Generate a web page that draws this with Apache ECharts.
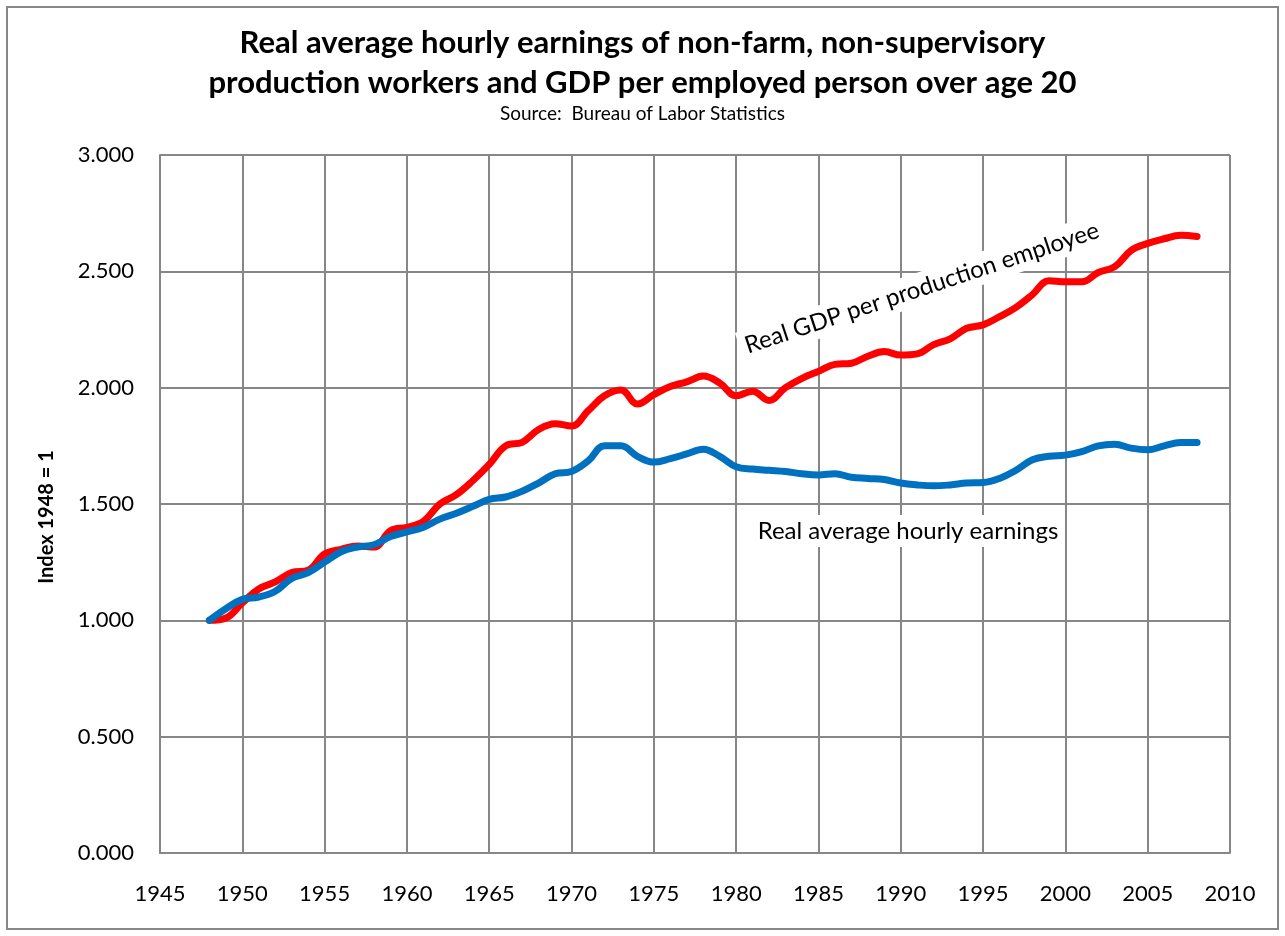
<!DOCTYPE html>
<html>
<head>
<meta charset="utf-8">
<script src="https://cdn.jsdelivr.net/npm/echarts@6/dist/echarts.min.js"></script>
<style>
  html, body { margin: 0; padding: 0; background: #fff; }
  #main { width: 1285px; height: 936px; }
</style>
</head>
<body>
<div id="main"></div>
<script>
var years = [];
for (var y = 1948; y <= 2008; y++) years.push(y);

// Real GDP per production employee (index 1948 = 1)
var gdpPerEmployee = [
  1.00, 1.01, 1.075, 1.135, 1.165, 1.205, 1.215, 1.285, 1.305, 1.32,
  1.315, 1.385, 1.40, 1.425, 1.50, 1.54, 1.60, 1.67, 1.75, 1.765,
  1.82, 1.845, 1.835, 1.90, 1.965, 1.99, 1.93, 1.97, 2.005, 2.025,
  2.05, 2.02, 1.965, 1.985, 1.945, 2.00, 2.04, 2.07, 2.10, 2.105,
  2.135, 2.155, 2.14, 2.145, 2.185, 2.21, 2.255, 2.27, 2.305, 2.345,
  2.40, 2.46, 2.455, 2.455, 2.495, 2.52, 2.59, 2.62, 2.64, 2.655,
  2.65
];

// Real average hourly earnings (index 1948 = 1)
var hourlyEarnings = [
  1.00, 1.05, 1.09, 1.10, 1.125, 1.18, 1.205, 1.25, 1.295, 1.315,
  1.325, 1.36, 1.38, 1.40, 1.435, 1.46, 1.49, 1.52, 1.53, 1.555,
  1.59, 1.63, 1.64, 1.685, 1.75, 1.75, 1.705, 1.68, 1.695, 1.715,
  1.735, 1.705, 1.66, 1.65, 1.645, 1.64, 1.63, 1.625, 1.63, 1.615,
  1.61, 1.605, 1.59, 1.582, 1.578, 1.582, 1.59, 1.592, 1.61, 1.645,
  1.69, 1.705, 1.71, 1.725, 1.75, 1.757, 1.74, 1.733, 1.75, 1.764,
  1.764
];

function pairs(vals) {
  return years.map(function (yr, i) { return [yr, vals[i]]; });
}

var FONT = 'Lato, "Open Sans", sans-serif';
var GRID_GRAY = '#878787';

var myChart = echarts.init(document.getElementById('main'));
option = {
  backgroundColor: '#fff',
  animation: false,
  title: [
    {
      text: 'Real average hourly earnings of non-farm, non-supervisory\nproduction workers and GDP per employed person over age 20',
      left: 'center',
      top: 23,
      padding: 0,
      textStyle: { fontFamily: FONT, fontSize: 31, fontWeight: 'bold', color: '#000', lineHeight: 40 }
    },
    {
      text: 'Source:  Bureau of Labor Statistics',
      left: 'center',
      top: 104,
      padding: 0,
      textStyle: { fontFamily: FONT, fontSize: 19, fontWeight: 'normal', color: '#000' }
    }
  ],
  grid: { left: 160, right: 55, top: 155, bottom: 83, containLabel: false },
  xAxis: {
    type: 'value',
    min: 1945,
    max: 2010,
    interval: 5,
    axisLine: { show: true, lineStyle: { color: GRID_GRAY, width: 2 } },
    axisTick: { show: false },
    splitLine: { show: true, lineStyle: { color: GRID_GRAY, width: 2 } },
    axisLabel: {
      margin: 30, color: '#000', fontFamily: FONT, fontSize: 22,
      formatter: function (v) { return String(v); }
    }
  },
  yAxis: {
    type: 'value',
    min: 0,
    max: 3,
    interval: 0.5,
    axisLine: { show: true, lineStyle: { color: GRID_GRAY, width: 2 } },
    axisTick: { show: false },
    splitLine: { show: true, lineStyle: { color: GRID_GRAY, width: 2 } },
    axisLabel: {
      margin: 26, color: '#000', fontFamily: FONT, fontSize: 22,
      formatter: function (v) { return v.toFixed(3); }
    }
  },
  series: [
    {
      name: 'Real GDP per production employee',
      type: 'line',
      data: pairs(gdpPerEmployee),
      smooth: 0.4,
      symbol: 'none',
      lineStyle: { color: '#ff0000', width: 7, cap: 'round', join: 'round' }
    },
    {
      name: 'Real average hourly earnings',
      type: 'line',
      data: pairs(hourlyEarnings),
      smooth: 0.4,
      symbol: 'none',
      lineStyle: { color: '#0070c0', width: 7, cap: 'round', join: 'round' }
    }
  ],
  graphic: [
    {
      type: 'rect',
      shape: { x: 7, y: 7, width: 1271, height: 922 },
      style: { fill: 'none', stroke: GRID_GRAY, lineWidth: 2 },
      silent: true
    },
    {
      type: 'text',
      x: 47, y: 517,
      rotation: Math.PI / 2,
      style: {
        text: 'Index 1948 = 1', fill: '#000',
        font: 'bold 20px ' + FONT,
        align: 'center', verticalAlign: 'middle'
      }
    },
    {
      type: 'text',
      x: 922, y: 288,
      rotation: 18.3 * Math.PI / 180,
      z: 100,
      style: {
        text: 'Real GDP per production employee', fill: '#000',
        font: '24px ' + FONT,
        align: 'center', verticalAlign: 'middle',
        backgroundColor: '#fff', padding: [4, 6]
      }
    },
    {
      type: 'text',
      x: 908, y: 531,
      z: 100,
      style: {
        text: 'Real average hourly earnings', fill: '#000',
        font: '24px ' + FONT,
        align: 'center', verticalAlign: 'middle',
        backgroundColor: '#fff', padding: [4, 6]
      }
    }
  ]
};

myChart.setOption(option);
</script>
</body>
</html>
